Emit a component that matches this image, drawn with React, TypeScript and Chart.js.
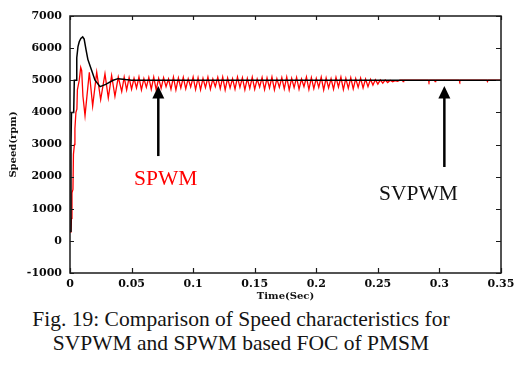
import React, { useEffect, useRef } from "react";
import { Chart, registerables } from "chart.js";

Chart.register(...registerables);

// ---- data ----
const xTickValues = [0, 0.05, 0.1, 0.15, 0.2, 0.25, 0.3, 0.35];
const xTickLabels = ["0", "0.05", "0.1", "0.15", "0.2", "0.25", "0.3", "0.35"];
const yTickValues = [-1000, 0, 1000, 2000, 3000, 4000, 5000, 6000, 7000];
const yTickLabels = ["-1000", "0", "1000", "2000", "3000", "4000", "5000", "6000", "7000"];

// SVPWM (black)
const svpwmTime = [0, 0.0008, 0.0012, 0.003, 0.0035, 0.005, 0.0055, 0.0065, 0.0075, 0.0088, 0.0103, 0.0115, 0.013, 0.0145, 0.0176, 0.0203, 0.0244, 0.029, 0.035, 0.039, 0.045, 0.05, 0.35];
const svpwmSpeed = [300, 3000, 4000, 4000, 5000, 5000, 5700, 6050, 6200, 6300, 6350, 6280, 5950, 5650, 5300, 5000, 4800, 4870, 5000, 5050, 5020, 5000, 5000];

// SPWM (red)
const spwmTime = [
  0.0006, 0.0012, 0.0016, 0.0024, 0.0028, 0.0036, 0.004, 0.0048, 0.0056, 0.006, 0.0075, 0.0087, 0.0095, 0.0105, 0.0122,
  0.014, 0.0157, 0.0184, 0.0217, 0.0249, 0.0284, 0.0311, 0.0338, 0.0365, 0.0392, 0.042,
  0.044, 0.046, 0.048, 0.05, 0.052, 0.054, 0.056, 0.058, 0.06, 0.062, 0.064, 0.066, 0.068, 0.07, 0.072, 0.074,
  0.076, 0.078, 0.08, 0.082, 0.084, 0.086, 0.088, 0.09, 0.092, 0.094, 0.096, 0.098, 0.1, 0.102, 0.104, 0.106,
  0.108, 0.11, 0.112, 0.114, 0.116, 0.118, 0.12, 0.122, 0.124, 0.126, 0.128, 0.13, 0.132, 0.134, 0.136, 0.138,
  0.14, 0.142, 0.144, 0.146, 0.148, 0.15, 0.152, 0.154, 0.156, 0.158, 0.16, 0.162, 0.164, 0.166, 0.168, 0.17,
  0.172, 0.174, 0.176, 0.178, 0.18, 0.182, 0.184, 0.186, 0.188, 0.19, 0.192, 0.194, 0.196, 0.198, 0.2, 0.202,
  0.204, 0.206, 0.208, 0.21, 0.212, 0.214, 0.216, 0.218, 0.22, 0.222, 0.224, 0.226, 0.228, 0.23, 0.232, 0.234,
  0.236, 0.238, 0.24, 0.242, 0.244, 0.246, 0.248, 0.25, 0.252, 0.254, 0.256, 0.258, 0.26, 0.262, 0.264, 0.266,
  0.268, 0.27, 0.2705, 0.271, 0.291, 0.2915, 0.292, 0.296, 0.2965, 0.297, 0.316, 0.3165, 0.317, 0.3385, 0.339, 0.3395, 0.35,
];
const spwmSpeed = [
  250, 700, 1500, 1600, 2700, 3000, 3500, 4000, 4100, 4700, 5000, 5400, 5300, 4500, 3900,
  4600, 5250, 4200, 5250, 4400, 5200, 4450, 5150, 4500, 5100, 4650,
  5100, 4700, 5080, 4720, 5060, 4760, 5100, 4700, 5050, 4780, 5090, 4720, 5100, 4700, 5060, 4750,
  5080, 4800, 5040, 4720, 5100, 4700, 5070, 4760, 5090, 4730, 5050, 4790, 5100, 4710, 5080, 4700,
  5060, 4770, 5100, 4720, 5040, 4800, 5090, 4740, 5100, 4700, 5070, 4760, 5050, 4720, 5100, 4780,
  5080, 4700, 5060, 4750, 5100, 4720, 5040, 4790, 5090, 4710, 5070, 4760, 5100, 4700, 5050, 4780,
  5080, 4730, 5100, 4700, 5060, 4770, 5090, 4720, 5040, 4800, 5100, 4710, 5080, 4740, 5060, 4780,
  5100, 4700, 5070, 4760, 5050, 4720, 5090, 4790, 5100, 4710, 5060, 4750, 5080, 4730, 5050, 4780,
  5070, 4760, 5040, 4800, 5030, 4850, 5020, 4880, 5010, 4910, 5010, 4930, 5000, 4950, 4990, 4970,
  5000, 5000, 4960, 5000, 5000, 4955, 5000, 5000, 4960, 5000, 5000, 4960, 5000, 5000, 4960, 5000, 5000,
];

const annotationPlugin = {
  id: "figAnnotations",
  afterDraw(chart: any) {
    const { ctx, chartArea, scales } = chart;
    const { left, right, top, bottom } = chartArea;
    const xs = scales.x;
    const ys = scales.y;
    ctx.save();
    // frame
    ctx.strokeStyle = "#1a1a1a";
    ctx.lineWidth = 1.5;
    ctx.strokeRect(left, top, right - left, bottom - top);
    // inward ticks on all sides
    ctx.lineWidth = 1.2;
    ctx.beginPath();
    xTickValues.forEach((v) => {
      const px = Math.round(xs.getPixelForValue(v)) + 0.5;
      ctx.moveTo(px, bottom);
      ctx.lineTo(px, bottom - 5);
      ctx.moveTo(px, top);
      ctx.lineTo(px, top + 4);
    });
    yTickValues.forEach((v) => {
      const py = Math.round(ys.getPixelForValue(v)) + 0.5;
      ctx.moveTo(left, py);
      ctx.lineTo(left + 4, py);
      ctx.moveTo(right, py);
      ctx.lineTo(right - 5, py);
    });
    ctx.stroke();

    // arrows
    const arrow = (t: number, fromV: number, tipV: number) => {
      const px = xs.getPixelForValue(t);
      const yb = ys.getPixelForValue(fromV);
      const yt = ys.getPixelForValue(tipV);
      ctx.strokeStyle = "#000";
      ctx.fillStyle = "#000";
      ctx.lineWidth = 2.5;
      ctx.beginPath();
      ctx.moveTo(px, yb);
      ctx.lineTo(px, yt + 10);
      ctx.stroke();
      ctx.beginPath();
      ctx.moveTo(px, yt);
      ctx.lineTo(px - 6, yt + 12.5);
      ctx.lineTo(px + 6, yt + 12.5);
      ctx.closePath();
      ctx.fill();
    };
    arrow(0.0717, 2640, 4820);
    arrow(0.304, 2300, 4820);

    // labels
    ctx.font = '21.5px "Liberation Serif"';
    ctx.textBaseline = "alphabetic";
    ctx.textAlign = "left";
    ctx.fillStyle = "#ff0000";
    ctx.fillText("SPWM", xs.getPixelForValue(0.052), ys.getPixelForValue(1740));
    ctx.fillStyle = "#111111";
    ctx.fillText("SVPWM", xs.getPixelForValue(0.2509), ys.getPixelForValue(1273));

    // axis titles
    ctx.fillStyle = "#111111";
    ctx.font = 'bold 10px "DejaVu Serif"';
    ctx.textAlign = "center";
    ctx.textBaseline = "middle";
    ctx.fillText("Time(Sec)", (left + right) / 2, 296);
    ctx.save();
    ctx.translate(13, (top + bottom) / 2);
    ctx.rotate(-Math.PI / 2);
    ctx.fillText("Speed(rpm)", 0, 0);
    ctx.restore();
    ctx.restore();
  },
};

export default function App() {
  const ref = useRef<HTMLCanvasElement | null>(null);
  useEffect(() => {
    if (!ref.current) return;
    const tickFont = { family: '"DejaVu Serif"', weight: "bold" as const, size: 11 };
    const chart = new Chart(ref.current, {
      type: "line",
      data: {
        datasets: [
          {
            label: "SVPWM",
            data: svpwmTime.map((t, i) => ({ x: t, y: svpwmSpeed[i] })),
            borderColor: "#000000",
            borderWidth: 1.5,
            pointRadius: 0,
            tension: 0,
            fill: false,
          },
          {
            label: "SPWM",
            data: spwmTime.map((t, i) => ({ x: t, y: spwmSpeed[i] })),
            borderColor: "#ff0000",
            borderWidth: 1.3,
            pointRadius: 0,
            tension: 0,
            fill: false,
          },
        ],
      },
      options: {
        animation: false,
        responsive: false,
        devicePixelRatio: 1,
        layout: { padding: { left: 0, right: 23, top: 16, bottom: 0 } },
        plugins: { legend: { display: false }, tooltip: { enabled: false } },
        scales: {
          x: {
            type: "linear",
            min: 0,
            max: 0.35,
            grid: { display: false, drawTicks: false },
            border: { display: false },
            afterBuildTicks: (s: any) => {
              s.ticks = xTickValues.map((v) => ({ value: v }));
            },
            afterFit: (s: any) => {
              s.height = 32;
            },
            ticks: {
              font: tickFont,
              color: "#0a0a0a",
              padding: 5,
              maxRotation: 0,
              autoSkip: false,
              callback: (_v: any, i: number) => xTickLabels[i],
            },
          },
          y: {
            type: "linear",
            min: -1000,
            max: 7000,
            grid: { display: false, drawTicks: false },
            border: { display: false },
            afterBuildTicks: (s: any) => {
              s.ticks = yTickValues.map((v) => ({ value: v }));
            },
            afterFit: (s: any) => {
              s.width = 70;
            },
            ticks: {
              font: tickFont,
              color: "#0a0a0a",
              padding: 8,
              autoSkip: false,
              callback: (_v: any, i: number) => yTickLabels[i],
            },
          },
        },
      },
      plugins: [annotationPlugin],
    } as any);
    return () => chart.destroy();
  }, []);

  const captionStyle: React.CSSProperties = {
    fontFamily: '"Liberation Serif", "Times New Roman", serif',
    fontSize: "21.5px",
    lineHeight: "23.5px",
    color: "#141414",
    whiteSpace: "nowrap",
  };

  return (
    <div style={{ position: "fixed", left: 0, top: 0, width: 524, height: 367, background: "#ffffff" }}>
      <canvas ref={ref} width={524} height={305} style={{ display: "block", position: "absolute", left: 0, top: 0 }} />
      <div style={{ position: "absolute", left: 0, top: 308, width: 482, textAlign: "center", ...captionStyle }}>
        <div>Fig. 19: Comparison of Speed characteristics for</div>
        <div>SVPWM and SPWM based FOC of PMSM</div>
      </div>
    </div>
  );
}
